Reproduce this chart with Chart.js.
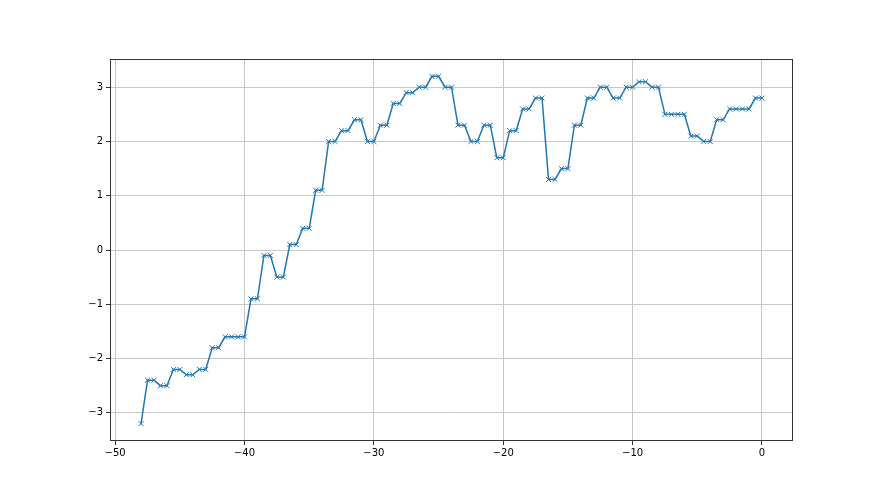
<!DOCTYPE html>
<html>
<head>
<meta charset="utf-8">
<script src="https://cdn.jsdelivr.net/npm/chart.js@4/dist/chart.umd.min.js"></script>
<style>
  html, body { margin: 0; padding: 0; background: #fff; }
  #wrap { width: 880px; height: 495px; }
</style>
</head>
<body>
<div id="wrap"><canvas id="lineChart" width="880" height="495"></canvas></div>
<script>
// x positions (step 0.5) and values
const xs = [
  -48, -47.5, -47, -46.5, -46, -45.5, -45, -44.5, -44, -43.5, -43, -42.5, -42,
  -41.5, -41, -40.5, -40, -39.5, -39, -38.5, -38, -37.5, -37, -36.5, -36,
  -35.5, -35, -34.5, -34, -33.5, -33, -32.5, -32, -31.5, -31, -30.5, -30,
  -29.5, -29, -28.5, -28, -27.5, -27, -26.5, -26, -25.5, -25, -24.5, -24,
  -23.5, -23, -22.5, -22, -21.5, -21, -20.5, -20, -19.5, -19, -18.5, -18,
  -17.5, -17, -16.5, -16, -15.5, -15, -14.5, -14, -13.5, -13, -12.5, -12,
  -11.5, -11, -10.5, -10, -9.5, -9, -8.5, -8, -7.5, -7, -6.5, -6,
  -5.5, -5, -4.5, -4, -3.5, -3, -2.5, -2, -1.5, -1, -0.5, 0
];
const ys = [
  -3.2, -2.4, -2.4, -2.5, -2.5, -2.2, -2.2, -2.3, -2.3, -2.2, -2.2, -1.8, -1.8,
  -1.6, -1.6, -1.6, -1.6, -0.9, -0.9, -0.1, -0.1, -0.5, -0.5, 0.1, 0.1,
  0.4, 0.4, 1.1, 1.1, 2.0, 2.0, 2.2, 2.2, 2.4, 2.4, 2.0, 2.0,
  2.3, 2.3, 2.7, 2.7, 2.9, 2.9, 3.0, 3.0, 3.2, 3.2, 3.0, 3.0,
  2.3, 2.3, 2.0, 2.0, 2.3, 2.3, 1.7, 1.7, 2.2, 2.2, 2.6, 2.6,
  2.8, 2.8, 1.3, 1.3, 1.5, 1.5, 2.3, 2.3, 2.8, 2.8, 3.0, 3.0,
  2.8, 2.8, 3.0, 3.0, 3.1, 3.1, 3.0, 3.0, 2.5, 2.5, 2.5, 2.5,
  2.1, 2.1, 2.0, 2.0, 2.4, 2.4, 2.6, 2.6, 2.6, 2.6, 2.8, 2.8
];
const xTicks = [-50, -40, -30, -20, -10, 0];
const yTicks = [-3, -2, -1, 0, 1, 2, 3];

const points = xs.map((x, i) => ({ x: x, y: ys[i] }));
const fmt = v => String(v).replace('-', '\u2212');

// matplotlib-style frame around the plot area
const frame = {
    id: 'frame',
    afterDraw(chart) {
        const a = chart.chartArea, c = chart.ctx;
        c.save();
        c.strokeStyle = '#333';
        c.lineWidth = 1;
        c.strokeRect(a.left + 0.5, a.top + 0.5, a.right - a.left - 1, a.bottom - a.top - 1);
        c.restore();
    }
};

const ctx = document.getElementById('lineChart').getContext('2d');
new Chart(ctx, {
    type: 'line',
    data: {
        datasets: [{
            data: points,
            borderColor: '#1f77b4',
            backgroundColor: '#1f77b4',
            borderWidth: 1.5,
            tension: 0,
            pointStyle: 'crossRot',
            pointRadius: 3.5,
            pointBorderWidth: 1,
            pointBorderColor: '#1f77b4'
        }]
    },
    options: {
        responsive: false,
        animation: false,
        layout: { padding: { top: 59, right: 87, left: 0, bottom: 0 } },
        plugins: {
            legend: { display: false },
            tooltip: { enabled: false }
        },
        scales: {
            x: {
                type: 'linear',
                min: -50.4,
                max: 2.4,
                afterBuildTicks: s => { s.ticks = xTicks.map(v => ({ value: v })); },
                afterFit: s => { s.height = 54; },
                grid: { color: '#c8c8c8', lineWidth: 1, tickColor: '#333', tickLength: 4 },
                border: { display: false },
                ticks: {
                    color: '#000',
                    padding: 2,
                    maxRotation: 0,
                    font: { family: 'DejaVu Sans', size: 10 },
                    callback: v => fmt(v)
                }
            },
            y: {
                type: 'linear',
                min: -3.52,
                max: 3.52,
                afterBuildTicks: s => { s.ticks = yTicks.map(v => ({ value: v })); },
                afterFit: s => { s.width = 110; },
                grid: { color: '#c8c8c8', lineWidth: 1, tickColor: '#333', tickLength: 4 },
                border: { display: false },
                ticks: {
                    color: '#000',
                    padding: 3,
                    font: { family: 'DejaVu Sans', size: 10 },
                    callback: v => fmt(v)
                }
            }
        }
    },
    plugins: [frame]
});
</script>
</body>
</html>
